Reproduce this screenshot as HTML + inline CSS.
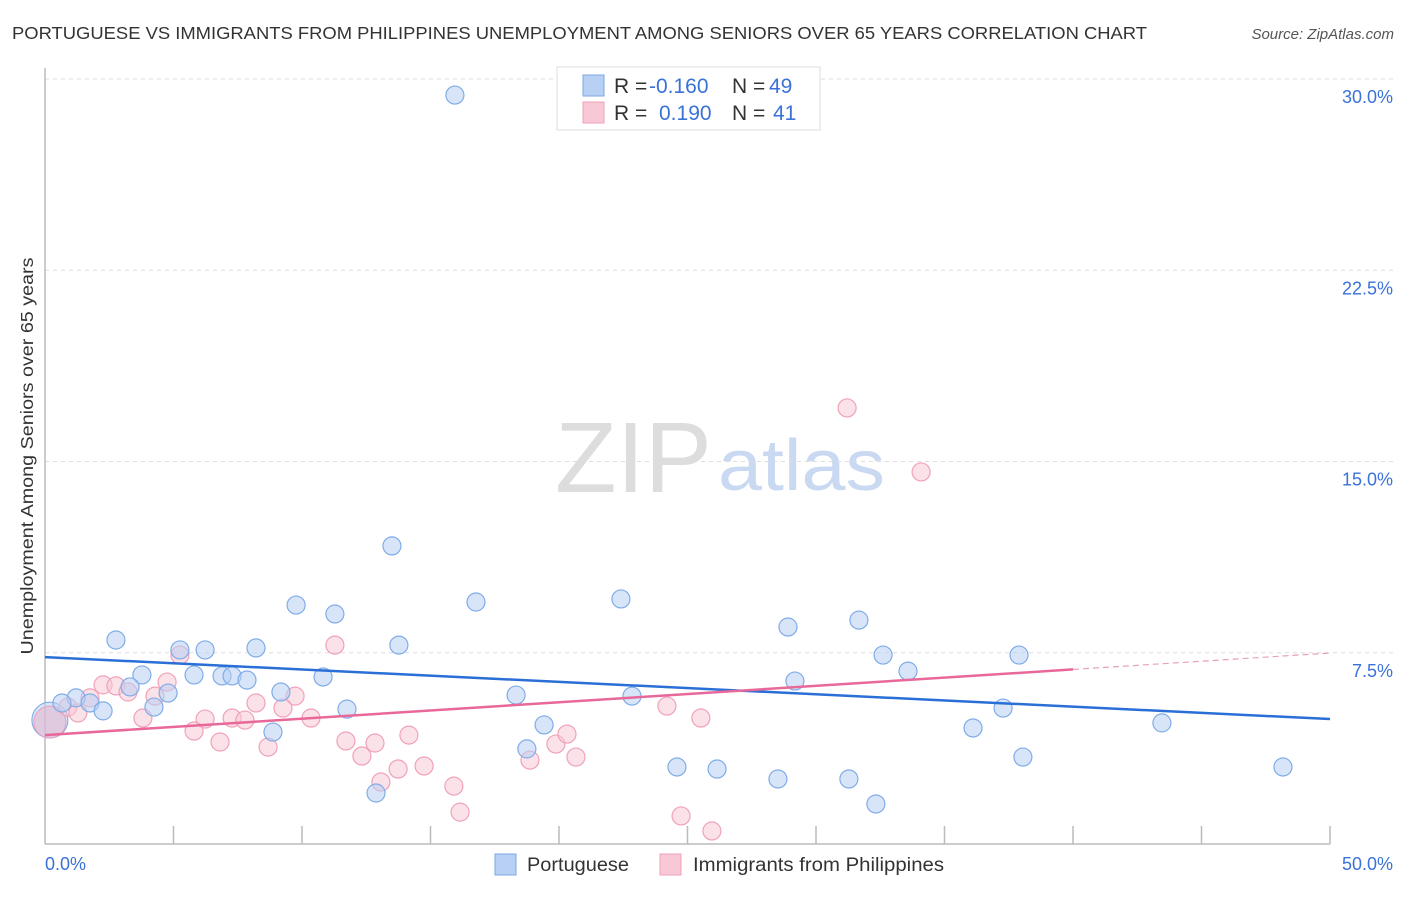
<!DOCTYPE html>
<html><head><meta charset="utf-8"><style>
body{margin:0;background:#fff;font-family:"Liberation Sans",sans-serif;}
svg text{font-family:"Liberation Sans",sans-serif;}
</style></head><body>
<svg id="chart" width="1406" height="892" xmlns="http://www.w3.org/2000/svg">
<text x="12" y="39" font-size="17.5" fill="#333" textLength="1135" lengthAdjust="spacingAndGlyphs">PORTUGUESE VS IMMIGRANTS FROM PHILIPPINES UNEMPLOYMENT AMONG SENIORS OVER 65 YEARS CORRELATION CHART</text>
<text x="1394" y="39" font-size="15" fill="#555" text-anchor="end" font-style="italic">Source: ZipAtlas.com</text>
<g>
<text x="555" y="492" font-size="100" fill="#ddd" font-family="Liberation Serif, serif" textLength="157" lengthAdjust="spacingAndGlyphs">ZIP</text>
<text x="718" y="490" font-size="72" fill="#c9d9f2" textLength="167" lengthAdjust="spacingAndGlyphs">atlas</text>
</g>
<g id="grid"></g>
<g id="axes"></g>
<g id="pts"></g>
<g id="trends"></g>
<text transform="translate(33,456) rotate(-90)" font-size="17.5" fill="#333" text-anchor="middle" textLength="397" lengthAdjust="spacingAndGlyphs">Unemployment Among Seniors over 65 years</text>
<g>
<rect x="557" y="67" width="263" height="63" fill="#fff" stroke="#ddd"/>
<rect x="583" y="75" width="21" height="21" fill="#b8d0f4" stroke="#7aa7e6"/>
<rect x="583" y="102" width="21" height="21" fill="#f8c8d6" stroke="#f0a2ba"/>
<text x="614" y="93" font-size="21" fill="#333">R = <tspan fill="#3a72d8" x="649">-0.160</tspan></text>
<text x="732" y="93" font-size="21" fill="#333">N = <tspan fill="#3a72d8" x="769">49</tspan></text>
<text x="614" y="120" font-size="21" fill="#333">R = <tspan fill="#3a72d8" x="659">0.190</tspan></text>
<text x="732" y="120" font-size="21" fill="#333">N = <tspan fill="#3a72d8" x="773">41</tspan></text>
</g>
<g>
<rect x="495" y="854" width="21" height="21" fill="#b8d0f4" stroke="#7aa7e6"/>
<text x="527" y="871" font-size="19" fill="#333" textLength="102" lengthAdjust="spacingAndGlyphs">Portuguese</text>
<rect x="660" y="854" width="21" height="21" fill="#f8c8d6" stroke="#f0a2ba"/>
<text x="693" y="871" font-size="19" fill="#333" textLength="251" lengthAdjust="spacingAndGlyphs">Immigrants from Philippines</text>
</g>
</svg>
<script>
const yTicks=[7.5,15,22.5,30];
const yTickLabels=["7.5%","15.0%","22.5%","30.0%"];
const xTickVals=[0,5,10,15,20,25,30,35,40,45,50];
const blueX=[15.95,13.50,9.77,11.28,16.77,22.41,2.76,13.77,5.25,6.23,8.21,3.77,5.80,6.89,7.28,7.86,10.82,3.31,4.79,9.18,1.21,0.66,1.75,2.26,4.24,11.75,8.87,18.33,22.84,19.42,18.75,12.88,28.91,31.67,32.61,33.58,29.18,37.90,37.28,36.11,38.05,43.46,48.17,24.59,26.15,28.52,31.28,32.33];
const blueY=[29.37,11.69,9.37,9.02,9.49,9.61,8.00,7.80,7.61,7.61,7.69,6.63,6.63,6.59,6.59,6.43,6.55,6.16,5.92,5.96,5.73,5.53,5.53,5.22,5.37,5.29,4.39,5.84,5.80,4.67,3.73,2.00,8.51,8.78,7.41,6.78,6.39,7.41,5.33,4.55,3.41,4.75,3.02,3.02,2.94,2.55,2.55,1.57];
const pinkX=[31.21,34.09,11.28,5.25,4.75,2.26,2.76,1.75,3.23,4.28,9.73,8.21,9.26,0.89,1.28,3.81,6.23,7.28,7.78,10.35,5.80,6.81,8.68,11.71,12.84,14.16,12.33,13.74,14.75,13.07,15.91,16.15,19.88,20.31,18.87,20.66,24.20,25.52,24.75,25.95];
const pinkY=[17.10,14.59,7.80,7.41,6.35,6.24,6.20,5.73,5.96,5.80,5.80,5.53,5.33,5.37,5.14,4.94,4.90,4.94,4.86,4.94,4.43,4.00,3.80,4.04,3.96,4.27,3.45,2.94,3.06,2.43,2.27,1.25,3.92,4.31,3.29,3.41,5.41,4.94,1.10,0.51];
const blueBig=[0.19,4.86];
const pinkBig=[0.19,4.78];
const blueTrend=[7.33,4.90];
const pinkTrend=[4.27,7.49];
const pinkSolidEnd=40;

const X0=45,X1=1330,Y0=844,Y30=79;
const sx=v=>X0+(X1-X0)*v/50;
const sy=v=>Y0-(Y0-Y30)*v/30;
const NS="http://www.w3.org/2000/svg";
function mk(tag,attrs,parent){const e=document.createElementNS(NS,tag);for(const k in attrs)e.setAttribute(k,attrs[k]);document.getElementById(parent).appendChild(e);return e;}

yTicks.forEach((t,i)=>{
  const l=mk('line',{x1:X0,x2:1394,y1:sy(t),y2:sy(t),stroke:'#ddd','stroke-dasharray':'4,4'},'grid');
  
  
  const tx=mk('text',{x:1393,y:sy(t)+24,'font-size':18,fill:'#3a72d8','text-anchor':'end'},'grid');
  tx.textContent=yTickLabels[i];
  
  
});
const ax=mk('line',{x1:X0,x2:X1,y1:Y0,y2:Y0,stroke:'#bbb','stroke-width':1.5},'axes');


const ay=mk('line',{x1:X0,x2:X0,y1:68,y2:Y0,stroke:'#bbb','stroke-width':1.5},'axes');


xTickVals.forEach(v=>{
  if(v===0)return;
  const t=mk('line',{x1:sx(v),x2:sx(v),y1:826,y2:Y0,stroke:'#bbb','stroke-width':1.5},'axes');
  
  
});
const xl0=mk('text',{x:45,y:870,'font-size':18,fill:'#3a72d8'},'axes');xl0.textContent='0.0%';


const xl1=mk('text',{x:1393,y:870,'font-size':18,fill:'#3a72d8','text-anchor':'end'},'axes');xl1.textContent='50.0%';



function dots(xs,ys,fill,stroke,name){
  xs.forEach((x,i)=>{
    const c=mk('circle',{cx:sx(x),cy:sy(ys[i]),r:9,fill:fill,'fill-opacity':0.55,stroke:stroke,'stroke-width':1.2},'pts');
    
    
  });
}
const bb=mk('circle',{cx:sx(blueBig[0]),cy:sy(blueBig[1]),r:18,fill:'#b8d0f4','fill-opacity':0.55,stroke:'#7aa7e6'},'pts');


const pb=mk('circle',{cx:sx(pinkBig[0]),cy:sy(pinkBig[1]),r:16,fill:'#e8b0c8','fill-opacity':0.5,stroke:'#e8a0bc'},'pts');


dots(pinkX,pinkY,'#f8c8d6','#f0a2ba','philippines-point');
dots(blueX,blueY,'#b8d0f4','#80ace8','portuguese-point');

const bt=mk('line',{x1:sx(0),y1:sy(blueTrend[0]),x2:sx(50),y2:sy(blueTrend[1]),stroke:'#2a6fd6','stroke-width':2.5},'trends');


const pEnd=pinkTrend[0]+(pinkTrend[1]-pinkTrend[0])*pinkSolidEnd/50;
const pt=mk('line',{x1:sx(0),y1:sy(pinkTrend[0]),x2:sx(pinkSolidEnd),y2:sy(pEnd),stroke:'#e8689a','stroke-width':2.5},'trends');


const pd=mk('line',{x1:sx(pinkSolidEnd),y1:sy(pEnd),x2:sx(50),y2:sy(pinkTrend[1]),stroke:'#e8a0bc','stroke-width':1.2,'stroke-dasharray':'6,4'},'trends');


</script>
</body></html>
